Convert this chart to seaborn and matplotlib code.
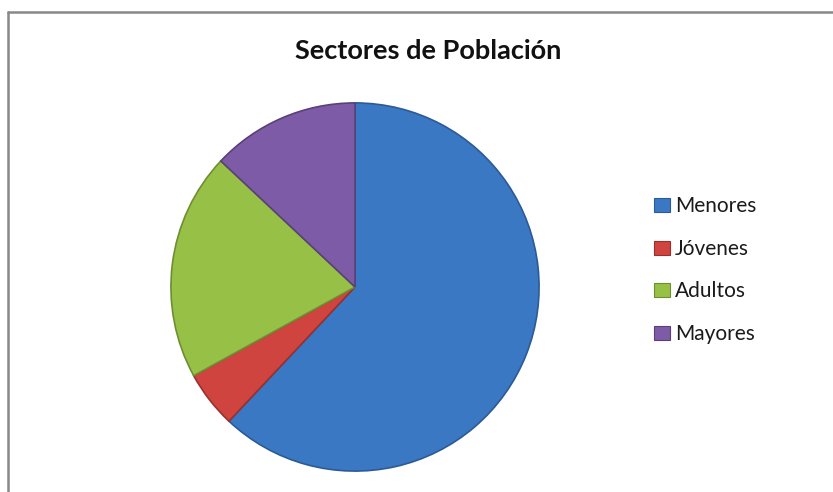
""" Sectores de Poblacion pie chart """

import matplotlib
matplotlib.use("Agg")
import matplotlib.pyplot as plt
from matplotlib.patches import Patch
from matplotlib.lines import Line2D
import seaborn as sns

sectores = ['Menores', 'Jóvenes', 'Adultos', 'Mayores']
porcentajes = [62, 5, 20, 13]
colores = ['#3B78C4', '#D0443F', '#97C047', '#7D5BA6']
bordes = ['#2C5A96', '#9A302C', '#6F8E33', '#5A4079']

sns.set_theme(style="white")
plt.rcParams['font.family'] = ['Lato', 'DejaVu Sans']

fig = plt.figure(figsize=(8.33, 4.92), dpi=100)
W, H = 833, 492

# pie axes: center (355, 287) px, radius 185 px
ax = fig.add_axes([170 / W, 20 / H, 370 / W, 370 / H])
wedges, _ = ax.pie(porcentajes, colors=colores, startangle=90,
                   counterclock=False, radius=1,
                   wedgeprops=dict(linewidth=1.2))
for w, c in zip(wedges, bordes):
    w.set_edgecolor(c)
ax.set_xlim(-1.005, 1.005)
ax.set_ylim(-1.005, 1.005)
ax.set_aspect('equal')
ax.axis('off')

fig.text(428 / W, 1 - 59 / H, 'Sectores de Población',
         ha='center', va='baseline', fontsize=19.5, fontweight='bold',
         color='#111111')

handles = [Patch(facecolor=c, edgecolor=b, linewidth=0.8)
           for c, b in zip(colores, bordes)]
fig.legend(handles, sectores, loc='upper left',
           bbox_to_anchor=(644 / W, 1 - 186 / H),
           frameon=False, fontsize=15, handlelength=0.75,
           handleheight=0.65, handletextpad=0.25, labelspacing=1.08,
           borderpad=0, labelcolor='#1a1a1a')

# outer frame (only top and left visible)
fig.add_artist(Line2D([8 / W, 8 / W], [0, 1 - 12 / H], color='#888888',
                      linewidth=1.8, transform=fig.transFigure))
fig.add_artist(Line2D([8 / W, 1], [1 - 12 / H, 1 - 12 / H], color='#888888',
                      linewidth=1.8, transform=fig.transFigure))

fig.savefig('out.png', dpi=100)
